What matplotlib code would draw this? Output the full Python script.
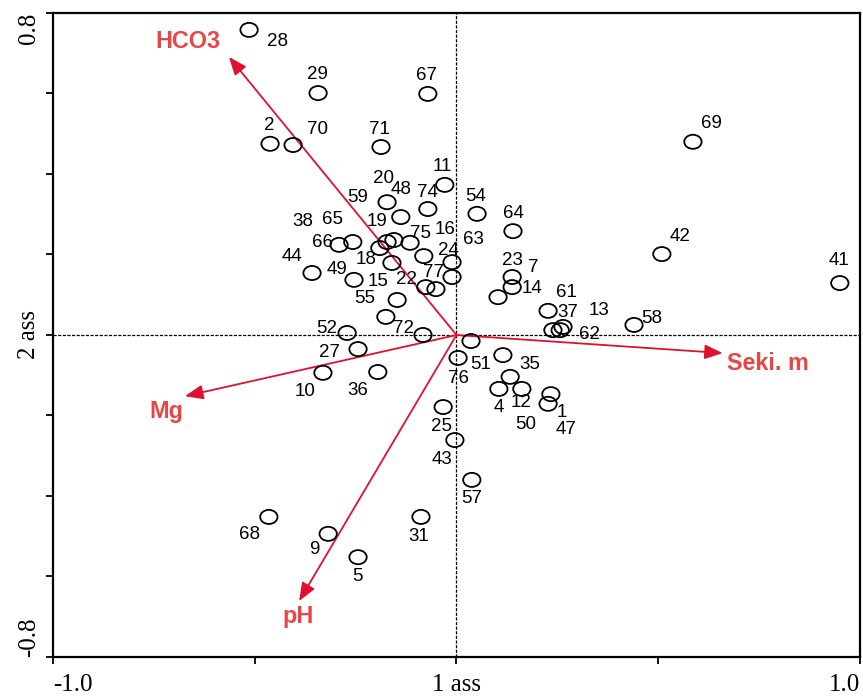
import matplotlib
matplotlib.use("Agg")
import matplotlib.pyplot as plt
from matplotlib.patches import Ellipse
from matplotlib.ticker import FixedLocator, FixedFormatter

# ---- data: site scores (axis 1, axis 2) ----
site_ids = ["28", "29", "67", "2", "70", "71", "69", "11", "20", "48", "74", "54", "64",
            "66", "65", "38", "59", "19", "75", "16", "24", "18", "44", "49", "63", "22",
            "77", "23", "14", "7", "15", "55", "52", "72", "27", "51", "61", "62", "13",
            "37", "58", "42", "41", "76", "35", "50", "4", "12", "1", "47", "25", "43",
            "57", "10", "36", "68", "9", "5", "31"]
site_x = [-0.514, -0.343, -0.071, -0.462, -0.405, -0.187, 0.586, -0.029, -0.172, -0.138,
          -0.071, 0.051, 0.140, -0.291, -0.257, -0.190, -0.172, -0.155, -0.115, -0.081,
          -0.011, -0.160, -0.358, -0.254, -0.011, -0.076, -0.051, 0.138, 0.138, 0.103,
          -0.147, -0.175, -0.271, -0.083, -0.244, 0.036, 0.227, 0.239, 0.257, 0.264,
          0.440, 0.509, 0.950, 0.004, 0.115, 0.133, 0.105, 0.162, 0.234, 0.227,
          -0.033, -0.004, 0.038, -0.331, -0.195, -0.465, -0.318, -0.244, -0.088]
site_y = [0.758, 0.601, 0.599, 0.475, 0.472, 0.467, 0.480, 0.373, 0.330, 0.293,
          0.313, 0.301, 0.258, 0.224, 0.231, 0.216, 0.231, 0.236, 0.229, 0.196,
          0.181, 0.179, 0.154, 0.137, 0.144, 0.119, 0.114, 0.144, 0.119, 0.094,
          0.087, 0.045, 0.005, 0.000, -0.035, -0.015, 0.060, 0.012, 0.012, 0.020,
          0.025, 0.201, 0.129, -0.057, -0.050, -0.104, -0.134, -0.134, -0.147, -0.171,
          -0.179, -0.261, -0.360, -0.094, -0.092, -0.452, -0.494, -0.552, -0.452]

# ---- data: environmental variable arrows ----
env_names = ["HCO3", "Mg", "pH", "Seki. m"]
env_x = [-0.564, -0.673, -0.390, 0.660]
env_y = [0.691, -0.152, -0.661, -0.045]

# ---- axis ticks ----
x_ticks = [-1.0, -0.5, 0.0, 0.5, 1.0]
x_ticklabels = ["-1.0", "", "1 ass", "", "1.0"]
y_ticks = [-0.8, -0.6, -0.4, -0.2, 0.0, 0.2, 0.4, 0.6, 0.8]
y_ticklabels = ["-0.8", "", "", "", "2 ass", "", "", "", "0.8"]

# ---- layout / style (label offsets in pixels) ----
label_dx = [28, -1, -1, -1, 24, -2, 19, -2, -4, 0, 0, -1, 0,
            -17, -20, -77, -29, -17, 10, 21, -4, -26, -20, -17, 21, -19,
            -2, 0, 20, 35, -19, -21, -20, -19, -29, 10, 18, 37, 39,
            5, 18, 18, -1, 0, 27, 16, 0, -1, 11, 18, -2, -13,
            0, -18, -20, -19, -14, -1, -2]
label_dy = [-12, 19, 18, 18, 16, 18, 18, 18, 24, 28, 17, 17, 18,
            2, 23, 27, 45, 19, 9, 27, 12, 3, 17, 10, 38, 8,
            17, 17, -1, 30, 18, 18, 4, 6, -3, -23, 18, -4, 20,
            14, 6, 18, 23, -21, -9, -48, -19, -14, -18, -26, -19, -19,
            -19, -19, -18, -18, -16, -19, -20]
env_label_dx = [-41, -19, -1, 45]
env_label_dy = [15, -15, -15, -10]

arrow_color = "#e0102f"
env_text_color = "#e84545"

fig = plt.figure(figsize=(8.63, 6.99), dpi=100)
ax = fig.add_axes([0.0614, 0.0601, 0.9351, 0.9213])
ax.set_xlim(-1.0, 1.0)
ax.set_ylim(-0.8, 0.8)

# zero lines
ax.axhline(0, color="black", lw=0.9, ls=(0, (2.5, 1.2)), zorder=1)
ax.axvline(0, color="black", lw=0.9, ls=(0, (2.5, 1.2)), zorder=1)

# site ellipses
ew, eh = 0.043, 0.035
for sx, sy in zip(site_x, site_y):
    ax.add_patch(Ellipse((sx, sy), ew, eh, facecolor="none", edgecolor="black",
                         lw=1.3, zorder=3))

# site labels
for sid, sx, sy, dx, dy in zip(site_ids, site_x, site_y, label_dx, label_dy):
    ax.annotate(sid, (sx, sy), xytext=(dx, dy), textcoords="offset pixels",
                ha="center", va="center", fontsize=13.5,
                family="Liberation Sans", color="black", zorder=4)

# environmental arrows
for name, ex, ey, dx, dy in zip(env_names, env_x, env_y, env_label_dx, env_label_dy):
    ax.annotate("", xy=(ex, ey), xytext=(0, 0),
                arrowprops=dict(arrowstyle="-|>,head_length=0.55,head_width=0.22",
                                mutation_scale=20, color=arrow_color, lw=1.3,
                                shrinkA=0, shrinkB=0), zorder=2)
    ax.annotate(name, (ex, ey), xytext=(dx, dy), textcoords="offset pixels",
                ha="center", va="center", fontsize=16.8, fontweight="bold",
                family="Liberation Sans", color=env_text_color, zorder=4)

# axes styling
for sp in ax.spines.values():
    sp.set_linewidth(1.6)
ax.xaxis.set_major_locator(FixedLocator(x_ticks))
ax.xaxis.set_major_formatter(FixedFormatter(x_ticklabels))
ax.yaxis.set_major_locator(FixedLocator(y_ticks))
ax.yaxis.set_major_formatter(FixedFormatter(y_ticklabels))
ax.tick_params(axis="both", direction="out", length=5, width=1.3)
ax.tick_params(axis="x", pad=7.5)
ax.tick_params(axis="y", pad=4)

xl = ax.get_xticklabels()
for lab in xl:
    lab.set_fontfamily("Liberation Serif")
    lab.set_fontsize(18)
xl[0].set_ha("left")
xl[-1].set_ha("right")

yl = ax.get_yticklabels()
for lab in yl:
    lab.set_fontfamily("Liberation Serif")
    lab.set_fontsize(18)
    lab.set_rotation(90)
    lab.set_va("center")
yl[0].set_va("bottom")
yl[-1].set_va("top")

fig.savefig("out.png", dpi=100)
